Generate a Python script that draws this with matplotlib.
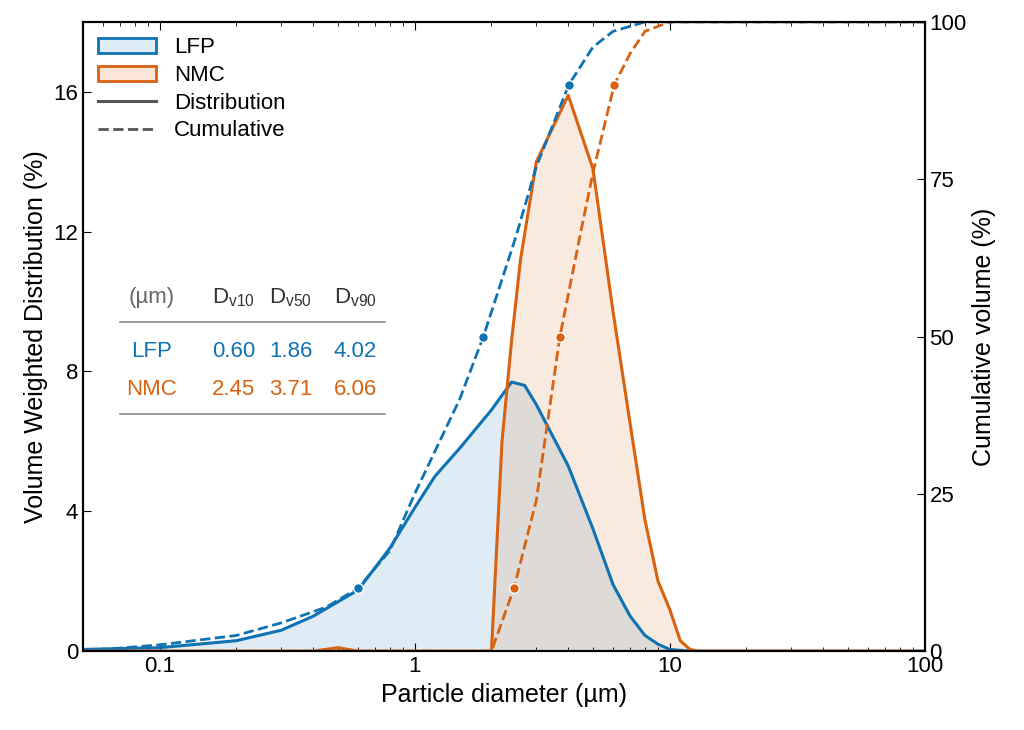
import matplotlib
matplotlib.use("Agg")
import matplotlib.pyplot as plt
from matplotlib.lines import Line2D
from matplotlib.patches import Patch
import numpy as np

plt.rcParams['font.family'] = ['Liberation Sans', 'DejaVu Sans']
plt.rcParams['mathtext.fontset'] = 'custom'
plt.rcParams['mathtext.rm'] = 'Liberation Sans'

lfp_x = [0.05, 0.1, 0.2, 0.3, 0.4, 0.6, 0.8, 1.0, 1.2, 1.5, 2.0, 2.4, 2.7, 3.0, 4.0, 5.0, 6.0, 7.0, 8.0, 9.0, 10.0, 12.0, 100]
lfp_y = [0.05, 0.1, 0.3, 0.6, 1.0, 1.75, 2.95, 4.1, 5.0, 5.8, 6.9, 7.7, 7.6, 7.05, 5.3, 3.5, 1.9, 1.0, 0.45, 0.2, 0.05, 0.0, 0.0]
nmc_x = [0.05, 0.4, 0.5, 0.6, 2.0, 2.2, 2.4, 2.6, 3.0, 4.0, 5.0, 6.0, 7.0, 8.0, 9.0, 10.0, 11.0, 12.0, 13.0, 100]
nmc_y = [0.0, 0.0, 0.1, 0.0, 0.0, 6.0, 8.9, 11.2, 14.0, 15.9, 13.8, 9.7, 6.5, 3.75, 2.0, 1.2, 0.3, 0.05, 0.0, 0.0]
lfp_cx = [0.05, 0.1, 0.2, 0.3, 0.45, 0.6, 0.8, 1.0, 1.5, 1.86, 2.5, 3.0, 4.02, 5.0, 6.0, 8.0, 100]
lfp_cy = [0, 1, 2.5, 4.5, 7, 10, 16, 25, 40, 50, 66, 77, 90, 96, 98.5, 100, 100]
nmc_cx = [0.05, 2.0, 2.45, 3.0, 3.71, 4.5, 5.0, 6.06, 7.0, 8.0, 10.0, 100]
nmc_cy = [0, 0, 10, 24, 50, 67, 76, 90, 95, 98.5, 100, 100]
lfp_d = [0.60, 1.86, 4.02]
nmc_d = [2.45, 3.71, 6.06]
pcts = [10, 50, 90]

c_lfp = '#0f72b3'
c_nmc = '#d8620f'

fig = plt.figure(figsize=(10.24, 7.3), dpi=100)
ax = fig.add_axes([0.081, 0.108, 0.822, 0.862])
ax.set_xscale('log')
ax.fill_between(lfp_x, lfp_y, color=c_lfp, alpha=0.13, lw=0)
ax.fill_between(nmc_x, nmc_y, color=c_nmc, alpha=0.13, lw=0)
ax.plot(lfp_x, lfp_y, color=c_lfp, lw=2.2)
ax.plot(nmc_x, nmc_y, color=c_nmc, lw=2.2)
ax.set_xlim(0.05, 100)
ax.set_ylim(0, 18)
ax.set_yticks([0, 4, 8, 12, 16])
ax.set_xticks([0.1, 1, 10, 100])
ax.set_xticklabels(['0.1', '1', '10', '100'])
ax.tick_params(direction='in', labelsize=16, length=6, top=True)
ax.tick_params(which='minor', direction='in', length=3, top=True)
ax.set_xlabel('Particle diameter (µm)', fontsize=18)
ax.set_ylabel('Volume Weighted Distribution (%)', fontsize=18)

ax2 = ax.twinx()
ax2.plot(lfp_cx, lfp_cy, color=c_lfp, lw=2, ls='--')
ax2.plot(nmc_cx, nmc_cy, color=c_nmc, lw=2, ls='--')
ax2.plot(lfp_d, pcts, 'o', color=c_lfp, mec='white', mew=1, ms=7)
ax2.plot(nmc_d, pcts, 'o', color=c_nmc, mec='white', mew=1, ms=7)
ax2.set_ylim(0, 100)
ax2.set_yticks([0, 25, 50, 75, 100])
ax2.tick_params(direction='in', labelsize=16, length=6)
ax2.set_ylabel('Cumulative volume (%)', fontsize=18)
for a in (ax, ax2):
    for s in a.spines.values():
        s.set_linewidth(1.5)

h = [Patch(facecolor='#dfecf6', edgecolor=c_lfp, lw=2, label='LFP'),
     Patch(facecolor='#fbe6d8', edgecolor=c_nmc, lw=2, label='NMC'),
     Line2D([], [], color='#555555', lw=2.2, label='Distribution'),
     Line2D([], [], color='#555555', lw=2, ls='--', label='Cumulative')]
ax.legend(handles=h, loc='upper left', frameon=False, fontsize=16, handlelength=2.6,
          borderaxespad=0.3, labelspacing=0.3)

fs = 16
cols = [0.148, 0.228, 0.284, 0.347]
fig.text(cols[0], 0.592, '(µm)', color='#666666', fontsize=fs, ha='center', va='center')
for cx, lab in zip(cols[1:], ['10', '50', '90']):
    fig.text(cx, 0.592, r'D$_{\rm v' + lab + '}$', fontsize=fs, ha='center', va='center', color='#333333')
fig.text(cols[0], 0.518, 'LFP', color=c_lfp, fontsize=fs, ha='center', va='center')
fig.text(cols[0], 0.466, 'NMC', color=c_nmc, fontsize=fs, ha='center', va='center')
for cx, v1, v2 in zip(cols[1:], lfp_d, nmc_d):
    fig.text(cx, 0.518, f'{v1:.2f}', color=c_lfp, fontsize=fs, ha='center', va='center')
    fig.text(cx, 0.466, f'{v2:.2f}', color=c_nmc, fontsize=fs, ha='center', va='center')
for yy in (0.559, 0.433):
    fig.add_artist(Line2D([0.117, 0.376], [yy, yy], color='#888888', lw=1.2))

fig.savefig('out.png', dpi=100)
